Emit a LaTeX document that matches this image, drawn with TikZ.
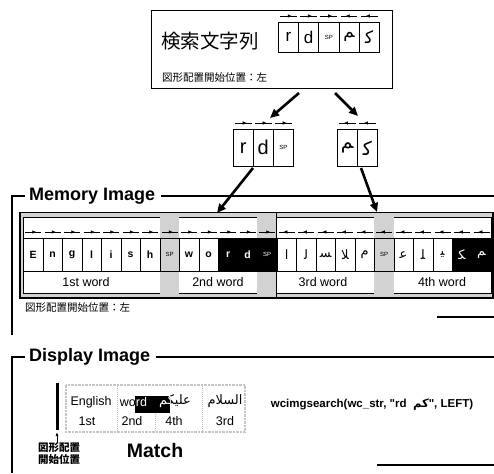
\documentclass[tikz,border=0pt]{standalone}
\usepackage{fontspec}
\setmainfont{Liberation Sans}
\newfontfamily\codefont{Liberation Sans}
\newfontfamily\jp{Noto Sans CJK JP}
\newfontfamily\arabicfont[Script=Arabic]{DejaVu Sans}
\newfontfamily\arpf{DejaVu Sans}
\TeXXeTstate=1
\usetikzlibrary{arrows.meta,decorations.markings,calc}

\newcommand\sptxt{{\fontsize{6}{6}\selectfont SP}}
\newcommand\enf{\fontsize{10.5}{11}\selectfont\bfseries}
\newcommand\arf{\arpf\fontsize{13}{13}\selectfont}

\tikzset{
  cell/.style={draw, line width=0.6pt, inner sep=0pt, anchor=north west,
    minimum width=19.5pt, minimum height=33pt},
  cw/.style={fill=white, text=black},
  cb/.style={fill=black, text=white},
  cg/.style={fill=gray!35, text=black},
  tcell/.style={draw, line width=0.6pt, inner sep=0pt, anchor=north west,
    minimum width=20.2pt, minimum height=30pt},
  mcell/.style={draw, line width=0.6pt, inner sep=0pt, anchor=north west,
    minimum width=20pt, minimum height=37pt},
  tickr/.style={line width=0.6pt, postaction={decorate}, decoration={markings,
    mark=at position 0.7 with {\arrow{Latex[length=4pt,width=3.6pt]}}}},
  tickl/.style={line width=0.6pt, postaction={decorate}, decoration={markings,
    mark=at position 0.3 with {\arrowreversed{Latex[length=4pt,width=3.6pt]}}}},
  bigarrow/.style={line width=2.6pt, -{Triangle[length=9pt,width=8pt]}},
  frame/.style={line width=1.1pt},
  title/.style={font=\fontsize{18}{18}\selectfont\bfseries, anchor=west, inner sep=0pt},
  jpnote/.style={font=\jp\fontsize{10.5}{11}\selectfont, anchor=west, inner sep=0pt},
  wordlbl/.style={font=\fontsize{12.5}{13}\selectfont, inner sep=0pt},
  disp/.style={font=\fontsize{12.5}{13}\selectfont, inner sep=0pt},
  stip/.style={draw=gray!45, line width=2.5pt, densely dotted},
}

\begin{document}
\begin{tikzpicture}[x=1pt,y=-1pt]
\useasboundingbox (0,0) rectangle (494,473);

% ---------- search string box ----------
\node[draw, line width=1pt, minimum width=241pt, minimum height=78pt,
      anchor=north west, inner sep=0pt] (top) at (151,10) {};
\node[font=\jp\fontsize{19.5}{19.5}\selectfont, anchor=west, inner sep=0pt] (kensaku) at (161,41) {検索文字列};
\node[jpnote] (topnote) at (162,78) {図形配置開始位置：左};
\foreach [count=\i from 0] \t/\d in {{\fontsize{17}{17}\selectfont r}/r,
    {\fontsize{17}{17}\selectfont d}/r, {\sptxt}/r,
    {\arpf\fontsize{17}{17}\selectfont ﻢ}/l, {\arpf\fontsize{17}{17}\selectfont ﻛ}/l} {
  \node[tcell] (t\i) at ({278+20.2*\i},22) {\t};
  \draw[tick\d] ($(t\i.north west)+(2,-6)$) -- ($(t\i.north east)+(-2,-6)$);
}

% ---------- split parts ----------
\foreach [count=\i from 0] \t in {{\fontsize{20}{20}\selectfont r},
    {\fontsize{20}{20}\selectfont d}, {\sptxt}} {
  \node[mcell] (p\i) at ({233+20*\i},129) {\t};
  \draw[tickr] ($(p\i.north west)+(2,-6)$) -- ($(p\i.north east)+(-2,-6)$);
}
\foreach [count=\i from 0] \t in {{\arpf\fontsize{19}{19}\selectfont ﻢ},
    {\arpf\fontsize{19}{19}\selectfont ﻛ}} {
  \node[mcell] (q\i) at ({337+20*\i},129) {\t};
  \draw[tickl] ($(q\i.north west)+(2,-6)$) -- ($(q\i.north east)+(-2,-6)$);
}
\coordinate (a1s) at (299,93);  \coordinate (a1e) at (270,118);
\coordinate (a2s) at (335,93);  \coordinate (a2e) at (358,116);
\coordinate (a3s) at (253,168); \coordinate (a3e) at (217,213);
\coordinate (a4s) at (361,168); \coordinate (a4e) at (377,212);
\draw[bigarrow] (a1s) -- (a1e);
\draw[bigarrow] (a2s) -- (a2e);
\draw[bigarrow] (a3s) -- (a3e);
\draw[bigarrow] (a4s) -- (a4e);

% ---------- memory image ----------
\node[title] (memtitle) at (29,196) {Memory Image};
\coordinate (mf1) at (12,335); \coordinate (mf2) at (12,196); \coordinate (mf3) at (25,196);
\coordinate (mf4) at (494,196);
\draw[frame] (mf1) -- (mf2) -- (mf3);
\draw[frame] ($(memtitle.east)+(6,0)$) -- (mf4);
\coordinate (mb1) at (437,317); \coordinate (mb2) at (494,317);
\draw[frame] (mb1) -- (mb2);

\fill[gray!35] (20,212.5) rectangle (493,298);
\draw[fill=white, line width=0.5pt] (23,217) rectangle (491,293.5);
\fill[gray!35] (159.5,217) rectangle (179,293.5);
\fill[gray!35] (257,217) rectangle (276.5,293.5);
\fill[gray!35] (374,217) rectangle (393.5,293.5);
\draw[line width=1.1pt] (20,212.5) rectangle (493,298);

\foreach [count=\i from 0] \t/\f/\d in {
    {\enf E}/w/r, {\enf n}/w/r, {\enf g}/w/r, {\enf l}/w/r, {\enf i}/w/r,
    {\enf s}/w/r, {\enf h}/w/r, {\sptxt}/g/r, {\enf w}/w/r, {\enf o}/w/r,
    {\enf r}/b/r, {\enf d}/b/r, {\sptxt}/b/r,
    {\arf ﺍ}/w/l, {\arf ﻟ}/w/l, {\arf ﺴ}/w/l, {\arf ﻼ}/w/l, {\arf ﻡ}/w/l,
    {\sptxt}/g/l, {\arf ﻋ}/w/l, {\arf ﻠ}/w/l, {\arf ﻴ}/w/l,
    {\arf ﻜ}/b/l, {\arf ﻢ}/b/l} {
  \node[cell, c\f] (m\i) at ({23+19.5*\i},238) {\t};
  \draw[tick\d] ($(m\i.north west)+(2,-6)$) -- ($(m\i.north east)+(-2,-6)$);
}
\draw[line width=1.3pt] (276.5,212.5) -- (276.5,298);

\node[wordlbl] (w1) at (86,282) {1st word};
\node[wordlbl] (w2) at (218,282) {2nd word};
\node[wordlbl] (w3) at (323,282) {3rd word};
\node[wordlbl] (w4) at (442,282) {4th word};
\node[jpnote] (memnote) at (25,308) {図形配置開始位置：左};

% ---------- display image ----------
\node[title] (distitle) at (29,357) {Display Image};
\coordinate (df1) at (12,473); \coordinate (df2) at (12,357); \coordinate (df3) at (25,357);
\coordinate (df4) at (494,357);
\draw[frame] (df1) -- (df2) -- (df3);
\draw[frame] ($(distitle.east)+(6,0)$) -- (df4);
\coordinate (db1) at (377,465); \coordinate (db2) at (494,465);
\draw[frame] (db1) -- (db2);

\draw[stip] (66,385) rectangle (245,432);
\draw[gray!55, line width=1pt, densely dotted] (117,386) -- (117,431);
\draw[gray!55, line width=1pt, densely dotted] (202,386) -- (202,431);
\draw[gray!55, line width=1pt, densely dotted] (155,414) -- (155,431);
\fill[black] (135,396) rectangle (170,413);

\node[disp] (english) at (91,402) {English};
\node[disp] (word) at (133.5,402) {word};
\node[disp, font=\arabicfont\fontsize{13}{13}\selectfont] (alaykum) at (175,401) {\beginR عليكم\endR};
\node[disp, font=\arabicfont\fontsize{13}{13}\selectfont] (salam) at (225,401) {\beginR السلام\endR};
\begin{scope}
  \clip (135,396) rectangle (170,413);
  \node[disp, text=white] at (133.5,402) {word};
  \node[disp, text=white, font=\arabicfont\fontsize{13}{13}\selectfont] at (175,401) {\beginR عليكم\endR};
\end{scope}
\node[disp] (o1) at (87,421) {1st};
\node[disp] (o2) at (132,421) {2nd};
\node[disp] (o4) at (174,421) {4th};
\node[disp] (o3) at (225,421) {3rd};

\coordinate (bar1) at (57,383); \coordinate (bar2) at (57,430);
\draw[line width=3pt] (bar1) -- (bar2);
\coordinate (up1) at (57,443); \coordinate (up2) at (57,432);
\draw[line width=0.8pt, -{Latex[length=4pt,width=3pt]}] (up1) -- (up2);
\node[font=\jp\bfseries\fontsize{10.5}{12}\selectfont, align=left, inner sep=0pt]
  (startpos) at (59,454) {図形配置\\開始位置};
\node[font=\fontsize{19.5}{19.5}\selectfont\bfseries, inner sep=0pt] (match) at (155,451) {Match};
\node[font=\codefont\fontsize{11.5}{12}\selectfont\bfseries, inner sep=0pt] (call) at (372,405)
  {wcimgsearch(wc\_str, "rd\ \ {\arabicfont\beginR كم\endR}", LEFT)};
\end{tikzpicture}
\end{document}
